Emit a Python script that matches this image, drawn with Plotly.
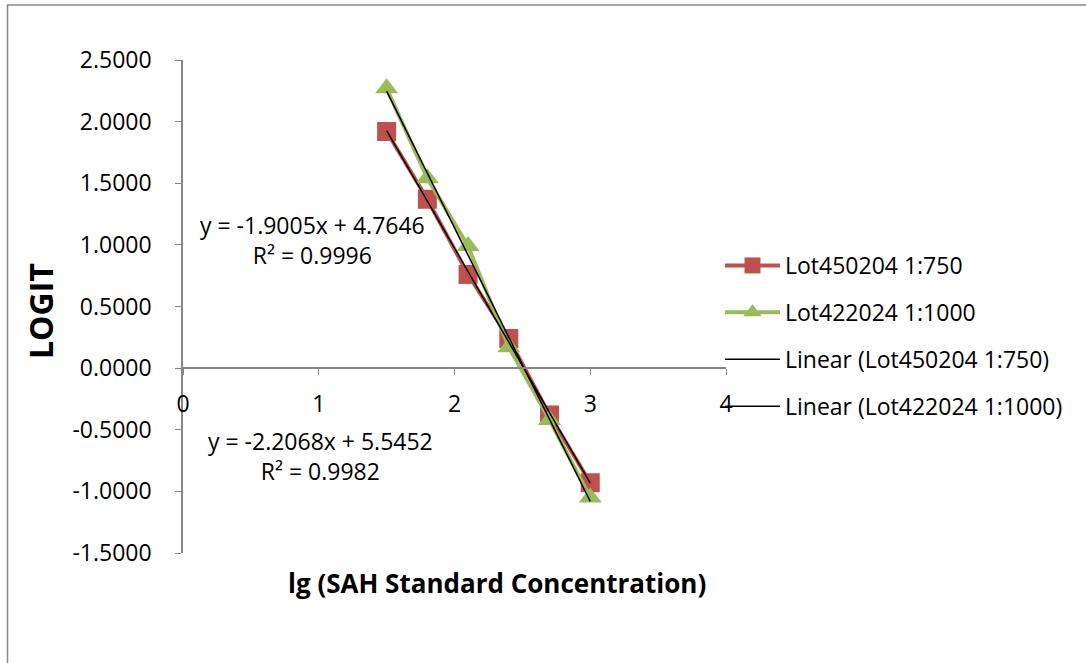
import numpy as np
import plotly.graph_objects as go

# ---- data ----
lg_conc = [1.5, 1.8, 2.1, 2.4, 2.7, 3.0]
logit_lot450204 = [1.92, 1.37, 0.76, 0.24, -0.38, -0.93]
logit_lot422024 = [2.27, 1.54, 0.99, 0.17, -0.42, -1.05]
series_names = ["Lot450204 1:750", "Lot422024 1:1000"]
trend_names = ["Linear (Lot450204 1:750)", "Linear (Lot422024 1:1000)"]
eq_texts = ["y = -1.9005x + 4.7646<br>R² = 0.9996", "y = -2.2068x + 5.5452<br>R² = 0.9982"]
y_ticks = [-1.5, -1.0, -0.5, 0.0, 0.5, 1.0, 1.5, 2.0, 2.5]
x_ticks = [0, 1, 2, 3, 4]

W, H = 1086, 663
L, R, T, B = 183, 726, 60, 553  # plot area pixels
FONT = "Open Sans"
FS = 23

def px_x(p):
    return (p - L) / (R - L)

def px_y(p):
    return (B - p) / (B - T)

red = "#C0504D"
green = "#9BBB59"
axis_col = "#868686"

fig = go.Figure()
fig.add_trace(go.Scatter(x=lg_conc, y=logit_lot450204, mode="lines+markers", name=series_names[0],
                         line=dict(color=red, width=4), marker=dict(symbol="square", size=19, color=red),
                         legendgroup="a"))
fig.add_trace(go.Scatter(x=lg_conc, y=logit_lot422024, mode="lines+markers", name=series_names[1],
                         line=dict(color=green, width=4), marker=dict(symbol="triangle-up", size=20, color=green),
                         legendgroup="b"))
xs = np.array(lg_conc)
for i, ys in enumerate([logit_lot450204, logit_lot422024]):
    k, b = np.polyfit(xs, np.array(ys), 1)
    xl = np.array([xs.min(), xs.max()])
    fig.add_trace(go.Scatter(x=xl, y=k * xl + b, mode="lines", name=trend_names[i],
                             line=dict(color="black", width=1.5), legendgroup="c%d" % i))

fig.update_layout(
    width=W, height=H,
    margin=dict(l=L, r=W - R, t=T, b=H - B),
    paper_bgcolor="white", plot_bgcolor="white",
    font=dict(family=FONT, size=FS, color="black"),
    showlegend=True,
    legend=dict(x=px_x(720), y=px_y(244), xanchor="left", yanchor="top",
                font=dict(family=FONT, size=FS), itemwidth=55,
                traceorder="grouped", tracegroupgap=14, bgcolor="rgba(0,0,0,0)"),
    xaxis=dict(range=[0, 4], tickvals=x_ticks, ticktext=[str(v) for v in x_ticks],
               showgrid=False, zeroline=False, showline=True, linecolor=axis_col, linewidth=1.5,
               ticks="outside", ticklen=6, tickcolor=axis_col, anchor="free", position=0.375,
               ticklabelstandoff=10, tickfont=dict(size=FS)),
    yaxis=dict(range=[-1.5, 2.5], tickvals=y_ticks, ticktext=["%.4f" % v for v in y_ticks],
               showgrid=False, zeroline=False, showline=True, linecolor=axis_col, linewidth=1.5,
               ticks="outside", ticklen=6, tickcolor=axis_col, ticklabelstandoff=19,
               tickfont=dict(size=FS)),
)

fig.add_annotation(xref="paper", yref="paper", x=px_x(312), y=px_y(240), text=eq_texts[0],
                   xanchor="center", yanchor="middle", showarrow=False, font=dict(size=FS), align="center")
fig.add_annotation(xref="paper", yref="paper", x=px_x(320), y=px_y(456), text=eq_texts[1],
                   xanchor="center", yanchor="middle", showarrow=False, font=dict(size=FS), align="center")
fig.add_annotation(xref="paper", yref="paper", x=px_x(497), y=px_y(583),
                   text="<b>lg (SAH Standard Concentration)</b>",
                   xanchor="center", yanchor="middle", showarrow=False, font=dict(size=26))
fig.add_annotation(xref="paper", yref="paper", x=px_x(40), y=px_y(311), text="<b>LOGIT</b>",
                   xanchor="center", yanchor="middle", showarrow=False, font=dict(size=32), textangle=-90)
fig.add_shape(type="rect", xref="paper", yref="paper", x0=px_x(7.5), x1=px_x(1100), y0=px_y(700), y1=px_y(5),
              line=dict(color="#888888", width=1.5), layer="below")

fig.write_html("out.html", config={"displayModeBar": False},
               post_script="document.body.style.margin='0px';document.body.style.padding='0px';")
